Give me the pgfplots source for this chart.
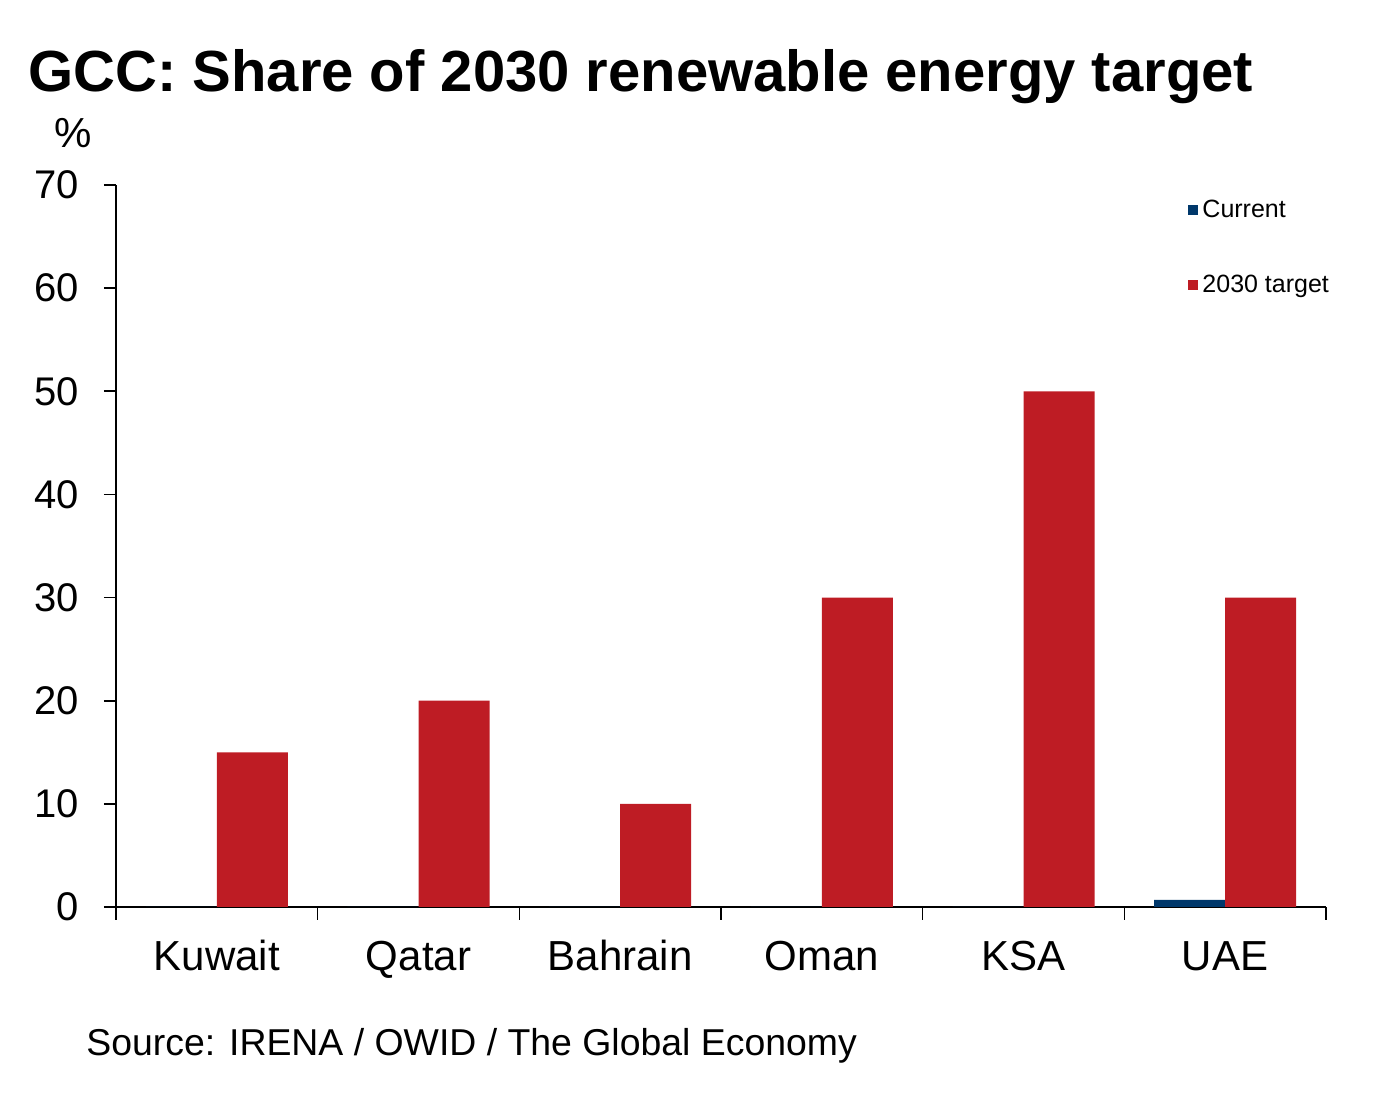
\documentclass[border=0pt]{standalone}
\usepackage{fontspec}
\setmainfont{Liberation Sans}
\usepackage{pgfplots}
\pgfplotsset{compat=1.18}
\definecolor{curblue}{HTML}{00386B}
\definecolor{tgtred}{HTML}{BE1C24}
\begin{document}
\begin{tikzpicture}[x=1pt,y=1pt]
\path[use as bounding box] (0,0) rectangle (689,552);
\node[anchor=base west,inner sep=0pt,font=\fontsize{29}{34}\selectfont\bfseries] at (14,506) {GCC: Share of 2030 renewable energy target};
\node[anchor=base west,inner sep=0pt,font=\fontsize{21}{25}\selectfont] at (27,478) {\%};
\node[anchor=base west,inner sep=0pt,font=\fontsize{18.7}{22}\selectfont] at (43,24) {Source: IRENA / OWID / The Global Economy};
\begin{axis}[
  at={(58pt,98.5pt)}, anchor=south west,
  scale only axis, width=605pt, height=361pt,
  ybar=0pt, bar width=35.5pt,
  xmin=-0.5, xmax=5.5, ymin=0, ymax=70,
  axis x line*=bottom, axis y line*=left,
  axis line style={black, line width=1pt},
  x axis line style={line width=1.4pt},
  xtick={0,...,5},
  xticklabels={Kuwait,Qatar,Bahrain,Oman,KSA,UAE},
  major x tick style={draw=none},
  minor xtick={-0.5,0.5,...,5.5},
  minor x tick style={black, line width=0.8pt},
  ytick={0,10,...,70},
  ytick style={black, line width=0.8pt},
  tick align=outside,
  major tick length=6pt, minor tick length=6.5pt,
  xticklabel style={font=\fontsize{21}{25}\selectfont, anchor=base, yshift=-26pt},
  yticklabel style={font=\fontsize{20}{24}\selectfont, xshift=-9pt},
  /pgf/number format/assume math mode=true,
  legend style={at={(0.886,0.985)}, anchor=north west, draw=none, fill=none,
    font=\fontsize{12.5}{15}\selectfont, row sep=23pt, inner sep=0pt,
    /tikz/every even column/.append style={column sep=2.5pt}},
  legend cell align=left,
  legend image code/.code={\fill[#1] (0pt,-2.5pt) rectangle (5pt,2.5pt);},
]
\addplot[fill=curblue, draw=none] coordinates {(0,0) (1,0) (2,0) (3,0) (4,0) (5,0.7)};
\addlegendentry{Current}
\addplot[fill=tgtred, draw=none] coordinates {(0,15) (1,20) (2,10) (3,30) (4,50) (5,30)};
\addlegendentry{2030 target}
\end{axis}
\end{tikzpicture}
\end{document}
